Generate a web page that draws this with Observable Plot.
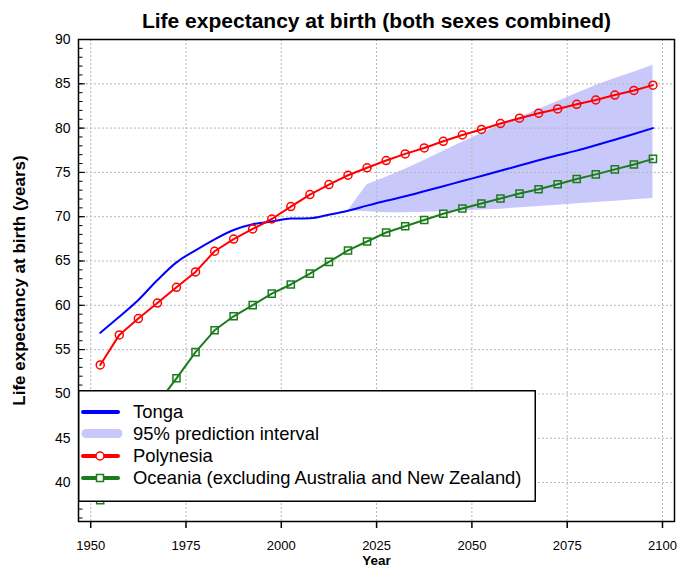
<!DOCTYPE html>
<html>
<head>
<meta charset="utf-8">
<script src="https://cdn.jsdelivr.net/npm/d3@7"></script>
<script src="https://cdn.jsdelivr.net/npm/@observablehq/plot@0.6"></script>
<style>
  body { margin: 0; background: #fff; font-family: "Liberation Sans", Arial, sans-serif; }
  #wrap { position: relative; width: 679px; height: 568px; }
  #legend { position: absolute; left: 78px; top: 390px; }
</style>
</head>
<body>
<div id="wrap"></div>
<script>
// ---- data ----
const years = [1952.5, 1957.5, 1962.5, 1967.5, 1972.5, 1977.5, 1982.5, 1987.5, 1992.5, 1997.5,
               2002.5, 2007.5, 2012.5, 2017.5, 2022.5, 2027.5, 2032.5, 2037.5, 2042.5, 2047.5,
               2052.5, 2057.5, 2062.5, 2067.5, 2072.5, 2077.5, 2082.5, 2087.5, 2092.5, 2097.5];
const tonga = [56.9, 58.7, 60.6, 62.85, 64.85, 66.2, 67.45, 68.5, 69.15, 69.45,
               69.8, 69.82, 70.22, 70.67, 71.25, 71.8, 72.3, 72.87, 73.43, 74.03,
               74.59, 75.18, 75.78, 76.38, 76.94, 77.46, 78.06, 78.69, 79.33, 80.0];
const polynesia = [53.27, 56.66, 58.5, 60.25, 62.03, 63.77, 66.1, 67.48, 68.62, 69.74,
                   71.14, 72.5, 73.63, 74.68, 75.52, 76.34, 77.09, 77.76, 78.51, 79.22,
                   79.85, 80.52, 81.12, 81.68, 82.16, 82.69, 83.17, 83.73, 84.25, 84.85];
const oceania = [38.0, 42.3, 45.8, 48.9, 51.76, 54.72, 57.18, 58.76, 60.02, 61.32,
                 62.35, 63.58, 64.9, 66.19, 67.2, 68.22, 68.92, 69.63, 70.34, 70.93,
                 71.49, 72.05, 72.61, 73.1, 73.66, 74.25, 74.78, 75.34, 75.9, 76.53];
const piYears = [2017.5, 2022.5, 2027.5, 2032.5, 2037.5, 2042.5, 2047.5, 2052.5, 2057.5,
                 2062.5, 2067.5, 2072.5, 2077.5, 2082.5, 2087.5, 2092.5, 2097.5];
const piLower = [70.67, 70.55, 70.45, 70.45, 70.5, 70.55, 70.65, 70.75, 70.85,
                 71.0, 71.15, 71.3, 71.45, 71.6, 71.75, 71.9, 72.05];
const piUpper = [70.67, 73.6, 74.45, 75.35, 76.35, 77.4, 78.4, 79.4, 80.35,
                 81.2, 82.1, 83.0, 83.9, 84.8, 85.6, 86.3, 87.1];
const xTicks = [1950, 1975, 2000, 2025, 2050, 2075, 2100];
const yTicks = [40, 45, 50, 55, 60, 65, 70, 75, 80, 85, 90];
const yMinor = d3.range(36, 91, 1);

const title = "Life expectancy at birth (both sexes combined)";
const yLabel = "Life expectancy at birth (years)";
const xLabel = "Year";
const legendItems = ["Tonga", "95% prediction interval", "Polynesia", "Oceania (excluding Australia and New Zealand)"];

// ---- tables ----
const tongaData = years.map((x, i) => ({x, y: tonga[i]}));
const polyData = years.map((x, i) => ({x, y: polynesia[i]}));
const oceData = years.map((x, i) => ({x, y: oceania[i]}));
const piData = piYears.map((x, i) => ({x, lo: piLower[i], hi: piUpper[i]}));

const W = 679, H = 568, mL = 78, mR = 5, mT = 39, mB = 47;
const frameW = W - mL - mR;
const BLUE = "#0000ff", RED = "#ff0000", GREEN = "#1c7c1c", BAND = "#c8c8fa";
const gridStyle = {stroke: "#b8b8b8", strokeOpacity: 1, strokeWidth: 1, strokeDasharray: "2,2"};

const chart = Plot.plot({
  width: W, height: H,
  marginLeft: mL, marginRight: mR, marginTop: mT, marginBottom: mB,
  style: {fontFamily: "'Liberation Sans', Arial, sans-serif", background: "white", color: "black"},
  x: {domain: [1946.8, 2103.15]},
  y: {domain: [35.6, 90]},
  marks: [
    Plot.areaY(piData, {x: "x", y1: "lo", y2: "hi", fill: BAND, fillOpacity: 1}),
    Plot.gridX(xTicks, gridStyle),
    Plot.gridY(yTicks.filter(d => d < 90), gridStyle),
    Plot.lineY(tongaData, {x: "x", y: "y", stroke: BLUE, strokeWidth: 2, curve: "monotone-x"}),
    Plot.lineY(oceData, {x: "x", y: "y", stroke: GREEN, strokeWidth: 2}),
    Plot.dot(oceData, {x: "x", y: "y", symbol: "square", r: 4, stroke: GREEN, strokeWidth: 1.5, fill: "none"}),
    Plot.lineY(polyData, {x: "x", y: "y", stroke: RED, strokeWidth: 2}),
    Plot.dot(polyData, {x: "x", y: "y", r: 4, stroke: RED, strokeWidth: 1.5, fill: "none"}),
    Plot.tickY(yMinor, {y: d => d, stroke: "black", strokeWidth: 1, insetRight: frameW - 4.5}),
    Plot.tickY(yTicks, {y: d => d, stroke: "black", strokeWidth: 1, insetRight: frameW - 7}),
    Plot.axisX(xTicks, {tickSize: 7, tickPadding: 12, fontSize: 13, tickFormat: d => String(d), label: null, stroke: "black", strokeWidth: 1.5}),
    Plot.axisY(yTicks, {tickSize: 0, tickPadding: 8, fontSize: 14, label: null}),
    Plot.frame({stroke: "black", strokeWidth: 1.5}),
    Plot.text([title], {text: d => d, frameAnchor: "top", textAnchor: "middle", lineAnchor: "middle", dy: -18, fontSize: 21, fontWeight: "bold", fill: "black"}),
    Plot.text([yLabel], {text: d => d, frameAnchor: "left", textAnchor: "middle", lineAnchor: "middle", dx: -59, rotate: -90, fontSize: 17, fontWeight: "bold", fill: "black"}),
    Plot.text([xLabel], {text: d => d, frameAnchor: "bottom", textAnchor: "middle", lineAnchor: "middle", dy: 39, fontSize: 13.5, fontWeight: "bold", fill: "black"})
  ]
});

const wrap = document.getElementById("wrap");
wrap.appendChild(chart);

// ---- legend (overlay, hides data behind it like the original) ----
const lw = 458, lh = 112;
const lg = d3.create("svg").attr("id", "legend").attr("width", lw).attr("height", lh);
lg.append("rect").attr("x", 0.75).attr("y", 0.75).attr("width", lw - 1.5).attr("height", lh - 1.5)
  .attr("fill", "white").attr("stroke", "black").attr("stroke-width", 1.5);
const rowsY = [22, 43.5, 66, 88];
const swatchColors = [BLUE, BAND, RED, GREEN];
legendItems.forEach((label, i) => {
  const y = rowsY[i];
  const g = lg.append("g");
  if (i === 1) {
    g.append("line").attr("x1", 8).attr("x2", 40).attr("y1", y).attr("y2", y)
      .attr("stroke", BAND).attr("stroke-width", 9).attr("stroke-linecap", "round");
  } else {
    g.append("line").attr("x1", 5).attr("x2", 40).attr("y1", y).attr("y2", y)
      .attr("stroke", swatchColors[i]).attr("stroke-width", 4).attr("stroke-linecap", "round");
  }
  if (i === 2) g.append("circle").attr("cx", 22).attr("cy", y).attr("r", 4).attr("fill", "white").attr("stroke", RED).attr("stroke-width", 1.5);
  if (i === 3) g.append("rect").attr("x", 18.5).attr("y", y - 3.5).attr("width", 7).attr("height", 7).attr("fill", "white").attr("stroke", GREEN).attr("stroke-width", 1.5);
  g.append("text").attr("x", 55).attr("y", y).attr("dy", "0.35em")
    .attr("font-family", "'Liberation Sans', Arial, sans-serif").attr("font-size", 18.4).attr("fill", "black").text(label);
});
wrap.appendChild(lg.node());
</script>
</body>
</html>
